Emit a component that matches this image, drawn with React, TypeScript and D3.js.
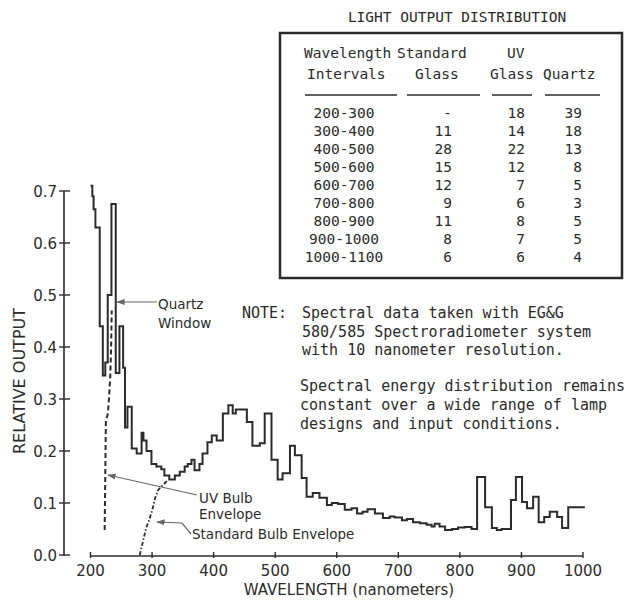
import React from 'react';
import * as d3 from 'd3';

const W = 626;
const H = 601;

// quartz window lamp, solid step trace: step start (nm) and level
const quartzNm = [200, 203, 205, 208, 215, 220, 224, 228, 234, 241, 247, 253, 256, 260, 267, 275, 283, 286, 291, 299,
  307, 315, 320, 328, 337, 345, 353, 358, 364, 369, 377, 382, 390, 397, 405, 415, 424, 431, 436, 454,
  463, 475, 483, 494, 504, 512, 524, 532, 543, 551, 561, 572, 584, 592, 602, 613, 624, 633, 642, 650,
  662, 675, 686, 694, 706, 714, 724, 735, 746, 754, 759, 767, 776, 787, 797, 808, 819, 828, 841, 852,
  860, 868, 883, 891, 901, 909, 919, 928, 937, 946, 958, 966, 976, 1003];
const quartzOut = [0.71, 0.69, 0.665, 0.63, 0.44, 0.345, 0.37, 0.5, 0.675, 0.35, 0.44, 0.36, 0.245, 0.285, 0.205, 0.195, 0.235, 0.22, 0.2, 0.175,
  0.17, 0.165, 0.153, 0.145, 0.153, 0.16, 0.17, 0.175, 0.183, 0.163, 0.175, 0.195, 0.217, 0.23, 0.22, 0.272, 0.288, 0.272, 0.28, 0.256,
  0.21, 0.215, 0.272, 0.183, 0.145, 0.157, 0.21, 0.192, 0.148, 0.112, 0.119, 0.11, 0.096, 0.1, 0.098, 0.087, 0.09, 0.08, 0.083, 0.088,
  0.08, 0.071, 0.074, 0.072, 0.067, 0.069, 0.063, 0.061, 0.058, 0.055, 0.06, 0.055, 0.048, 0.05, 0.053, 0.054, 0.05, 0.15, 0.092, 0.052,
  0.048, 0.05, 0.106, 0.15, 0.102, 0.09, 0.112, 0.063, 0.073, 0.083, 0.073, 0.052, 0.092, 0.092];

// UV bulb envelope (dashed)
const uvNm = [223, 224, 225, 228, 230, 232, 233.5, 234.5];
const uvOut = [0.048, 0.15, 0.26, 0.27, 0.3, 0.34, 0.4, 0.47];

// standard bulb envelope (dash-dot)
const stdNm = [280, 284, 290, 296, 300, 305, 310, 318, 324];
const stdOut = [0, 0.02, 0.05, 0.07, 0.085, 0.11, 0.125, 0.135, 0.142];

const xTicks = [200, 300, 400, 500, 600, 700, 800, 900, 1000];
const yTicks = [0, 0.1, 0.2, 0.3, 0.4, 0.5, 0.6, 0.7];

// light output distribution table
const intervals = ['200-300', '300-400', '400-500', '500-600', '600-700', '700-800', '800-900', '900-1000', '1000-1100'];
const standardGlass = ['-', '11', '28', '15', '12', '9', '11', '8', '6'];
const uvGlass = ['18', '14', '22', '12', '7', '6', '8', '7', '6'];
const quartz = ['39', '18', '13', '8', '5', '3', '5', '5', '4'];

const noteLines = ['Spectral data taken with EG&G', '580/585 Spectroradiometer system', 'with 10 nanometer resolution.'];
const note2Lines = ['Spectral energy distribution remains', 'constant over a wide range of lamp', 'designs and input conditions.'];

const ink = '#2b2b2b';
const sans = '"DejaVu Sans", sans-serif';
const mono = '"DejaVu Sans Mono", monospace';

export default function App() {
  const x = d3.scaleLinear().domain([200, 1000]).range([90.5, 583]);
  const y = d3.scaleLinear().domain([0, 0.7]).range([555, 191]);

  const stepLine = d3.line<number>()
    .x((d) => x(quartzNm[d]))
    .y((d) => y(quartzOut[d]))
    .curve(d3.curveStepAfter);
  const uvLine = d3.line<number>().x((d) => x(uvNm[d])).y((d) => y(uvOut[d]));
  const stdLine = d3.line<number>().x((d) => x(stdNm[d])).y((d) => y(stdOut[d]));

  const yAxisX = 64;
  const baseY = y(0) + 1;
  const rowY = (i: number) => 118 + i * 18;

  return (
    <svg width={W} height={H} style={{ position: 'absolute', left: 0, top: 0, background: '#fff' }}>
      <defs>
        <marker id="arr" viewBox="0 0 10 10" refX="9" refY="5" markerWidth="7" markerHeight="7" orient="auto">
          <path d="M0,1.5 L10,5 L0,8.5 Z" fill="#666" />
        </marker>
      </defs>

      {/* table title and box */}
      <text x={457} y={22} textAnchor="middle" fontFamily={mono} fontSize={14.5} fill={ink}>LIGHT OUTPUT DISTRIBUTION</text>
      <rect x={280} y={33} width={342} height={245} fill="none" stroke={ink} strokeWidth={2.5} />
      <g fontFamily={mono} fontSize={14.5} fill={ink}>
        <text x={304} y={58}>Wavelength</text>
        <text x={397} y={58}>Standard</text>
        <text x={507} y={58}>UV</text>
        <text x={307} y={79}>Intervals</text>
        <text x={415} y={79}>Glass</text>
        <text x={490} y={79}>Glass</text>
        <text x={543} y={79}>Quartz</text>
      </g>
      <g stroke={ink} strokeWidth={1.5}>
        <line x1={305} x2={397} y1={95} y2={95} />
        <line x1={407} x2={480} y1={95} y2={95} />
        <line x1={492} x2={532} y1={95} y2={95} />
        <line x1={545} x2={600} y1={95} y2={95} />
      </g>
      <g fontFamily={mono} fontSize={14.5} fill={ink}>
        {intervals.map((d, i) => (
          <g key={d}>
            <text x={344} y={rowY(i)} textAnchor="middle">{d}</text>
            <text x={452} y={rowY(i)} textAnchor="end">{standardGlass[i]}</text>
            <text x={525} y={rowY(i)} textAnchor="end">{uvGlass[i]}</text>
            <text x={582} y={rowY(i)} textAnchor="end">{quartz[i]}</text>
          </g>
        ))}
      </g>

      {/* notes */}
      <g fontFamily={mono} fontSize={15} fill={ink}>
        <text x={242} y={318}>NOTE:</text>
        {noteLines.map((t, i) => (
          <text key={t} x={302} y={318 + i * 18.5}>{t}</text>
        ))}
        {note2Lines.map((t, i) => (
          <text key={t} x={300} y={391 + i * 19}>{t}</text>
        ))}
      </g>

      {/* axes */}
      <line x1={yAxisX} x2={yAxisX} y1={y(0.7)} y2={baseY} stroke={ink} strokeWidth={1.6} />
      {yTicks.map((t) => (
        <g key={t}>
          <line x1={yAxisX - 5} x2={yAxisX + 6} y1={y(t)} y2={y(t)} stroke={ink} strokeWidth={1.4} />
          <text x={57} y={y(t) + 5.5} textAnchor="end" fontFamily={sans} fontSize={15} fill={ink}>{t.toFixed(1)}</text>
        </g>
      ))}
      <line x1={x(200)} x2={x(1000)} y1={baseY} y2={baseY} stroke={ink} strokeWidth={1.6} />
      {xTicks.map((t) => (
        <g key={t}>
          <line x1={x(t)} x2={x(t)} y1={baseY - 4} y2={baseY + 2} stroke={ink} strokeWidth={1.4} />
          <text x={x(t)} y={576} textAnchor="middle" fontFamily={sans} fontSize={15} fill={ink}>{t}</text>
        </g>
      ))}
      <text x={349} y={595} textAnchor="middle" fontFamily={sans} fontSize={15} fill={ink}>WAVELENGTH (nanometers)</text>
      <text transform="translate(25,381) rotate(-90)" textAnchor="middle" fontFamily={sans} fontSize={16} fill={ink}>RELATIVE OUTPUT</text>

      {/* spectra */}
      <path d={stepLine(d3.range(quartzNm.length)) ?? ''} fill="none" stroke={ink} strokeWidth={2} strokeLinejoin="miter" />
      <path d={uvLine(d3.range(uvNm.length)) ?? ''} fill="none" stroke={ink} strokeWidth={2} strokeDasharray="5,3" />
      <path d={stdLine(d3.range(stdNm.length)) ?? ''} fill="none" stroke={ink} strokeWidth={1.8} strokeDasharray="4,2,1.5,2" />

      {/* annotations */}
      <g stroke="#666" strokeWidth={1.2} fill="none">
        <line x1={157} y1={302} x2={117} y2={302} markerEnd="url(#arr)" />
        <line x1={197} y1={495} x2={108} y2={475} markerEnd="url(#arr)" />
        <polyline points="191,534 182,523 157,522" markerEnd="url(#arr)" />
      </g>
      <g fontFamily={sans} fontSize={13.5} fill={ink}>
        <text x={158} y={309}>Quartz</text>
        <text x={158} y={328}>Window</text>
        <text x={199} y={503}>UV Bulb</text>
        <text x={199} y={519}>Envelope</text>
        <text x={192} y={539}>Standard Bulb Envelope</text>
      </g>
    </svg>
  );
}
